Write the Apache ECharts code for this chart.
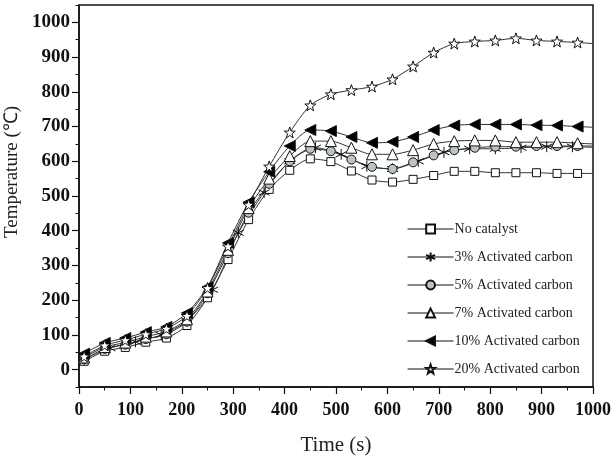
<!DOCTYPE html>
<html>
<head>
<meta charset="utf-8">
<script src="https://cdn.jsdelivr.net/npm/echarts@6/dist/echarts.min.js"></script>
<style>
  html, body { margin: 0; padding: 0; background: #fff; }
  #chart { width: 614px; height: 459px; }
</style>
</head>
<body>
<div id="chart"></div>
<script>
// sampling times (s); the last point only carries the line to the frame
const times = [10, 50, 90, 130, 170, 210, 250, 290, 330, 370, 410, 450, 490, 530, 570, 610, 650, 690, 730, 770, 810, 850, 890, 930, 970, 1000];
const times3 = [10, 60, 110, 160, 210, 260, 310, 360, 410, 460, 510, 560, 610, 660, 710, 760, 810, 860, 910, 960, 1000];

// temperatures (°C)
const noCatalyst = [24, 53, 64, 79, 91, 127, 207, 317, 432, 519, 574, 607, 599, 572, 546, 540, 548, 559, 571, 571, 567, 567, 567, 565, 565, 565];
const carbon3 = [30, 62, 80, 100, 140, 230, 394, 510, 600, 639, 620, 586, 578, 600, 626, 636, 636, 639, 642, 642, 640];
const carbon5 = [30, 60, 72, 88, 102, 138, 220, 335, 452, 535, 600, 636, 629, 605, 584, 578, 597, 617, 632, 639, 642, 642, 644, 644, 644, 644];
const carbon7 = [35, 65, 78, 95, 110, 145, 225, 345, 465, 550, 615, 658, 658, 639, 620, 620, 632, 650, 658, 660, 660, 655, 655, 655, 652, 650];
const carbon10 = [46, 77, 91, 108, 123, 163, 238, 365, 482, 570, 644, 690, 687, 670, 653, 656, 670, 690, 703, 706, 706, 706, 704, 703, 700, 698];
const carbon20 = [38, 70, 85, 102, 118, 155, 235, 355, 475, 585, 683, 761, 793, 805, 815, 836, 873, 913, 939, 945, 948, 954, 948, 945, 942, 939];

const names = ['No catalyst', '3% Activated carbon', '5% Activated carbon', '7% Activated carbon', '10% Activated carbon', '20% Activated carbon'];
const yLabels = [0, 100, 200, 300, 400, 500, 600, 700, 800, 900, 1000];

const STAR = 'path://M10 0 L12.35 6.76 L19.51 6.91 L13.8 11.24 L15.88 18.09 L10 14 L4.12 18.09 L6.2 11.24 L0.49 6.91 L7.65 6.76 Z';
const ASTER = 'path://M5 0 L5 10 M0.67 2.5 L9.33 7.5 M0.67 7.5 L9.33 2.5';
const LEFT_TRI = 'path://M0 5 L10 0 L10 10 Z';

const serif = 'Liberation Serif';

function pts(ts, vals) {
  return vals.map((v, i) => i === vals.length - 1 ? { value: [ts[i], v], symbol: 'none' } : [ts[i], v]);
}

function line(name, data, symbol, size, fill) {
  return {
    name: name,
    type: 'line',
    data: data,
    smooth: 0.25,
    symbol: symbol,
    symbolSize: size,
    showAllSymbol: true,
    lineStyle: { color: '#333', width: 1 },
    itemStyle: { color: fill, borderColor: '#111', borderWidth: 1 },
    emphasis: { disabled: true },
    z: 3
  };
}

const chart = echarts.init(document.getElementById('chart'));

chart.setOption({
  animation: false,
  backgroundColor: '#fff',
  grid: {
    left: 79, right: 21, top: 5, bottom: 72,
    outerBoundsMode: 'none', containLabel: false,
    show: true, borderColor: '#111', borderWidth: 1.5
  },
  legend: {
    orient: 'vertical',
    left: 402,
    top: 217,
    itemWidth: 46,
    itemHeight: 11,
    itemGap: 14,
    data: names,
    lineStyle: { width: 1.2, color: '#111' },
    textStyle: { fontFamily: serif, fontSize: 14, color: '#222', padding: [0, 0, 0, -4] }
  },
  xAxis: {
    type: 'value',
    min: 0,
    max: 1000,
    interval: 100,
    name: 'Time (s)',
    nameLocation: 'middle',
    nameGap: 48,
    nameTextStyle: { fontFamily: serif, fontSize: 21, color: '#222' },
    axisLine: { onZero: false, lineStyle: { color: '#111', width: 1.5 } },
    axisTick: { inside: false, length: 7, lineStyle: { color: '#111', width: 1.2 } },
    minorTick: { show: true, splitNumber: 2, length: 3.5, lineStyle: { color: '#111', width: 1 } },
    axisLabel: { fontFamily: serif, fontSize: 18, fontWeight: 'bold', color: '#111', margin: 14, formatter: v => String(v) },
    splitLine: { show: false }
  },
  yAxis: [{
    type: 'value',
    min: -50,
    max: 1050,
    interval: 50,
    name: 'Temperature (℃)',
    nameLocation: 'middle',
    nameGap: 52,
    nameTextStyle: { fontFamily: serif, fontSize: 19, color: '#222', padding: [0, 0, 0, 48] },
    axisLine: { onZero: false, lineStyle: { color: '#111', width: 1.5 } },
    axisTick: { length: 7, customValues: yLabels, lineStyle: { color: '#111', width: 1.2 } },
    axisLabel: {
      fontFamily: serif, fontSize: 19, fontWeight: 'bold', color: '#111', margin: 9,
      customValues: yLabels, formatter: v => String(v)
    },
    splitLine: { show: false }
  }, {
    type: 'value',
    position: 'left',
    min: -50,
    max: 1050,
    interval: 50,
    axisLine: { show: false, onZero: false },
    axisTick: { length: 3.5, lineStyle: { color: '#111', width: 1 } },
    axisLabel: { show: false },
    splitLine: { show: false }
  }],
  series: [
    line(names[0], pts(times, noCatalyst), 'rect', 8, '#fff'),
    line(names[1], pts(times3, carbon3), ASTER, 11, '#222'),
    line(names[2], pts(times, carbon5), 'circle', 9, '#b9c4ca'),
    line(names[3], pts(times, carbon7), 'triangle', 11, '#fff'),
    line(names[4], pts(times, carbon10), LEFT_TRI, 11, '#000'),
    line(names[5], pts(times, carbon20), STAR, 11, '#fff')
  ]
});
</script>
</body>
</html>
